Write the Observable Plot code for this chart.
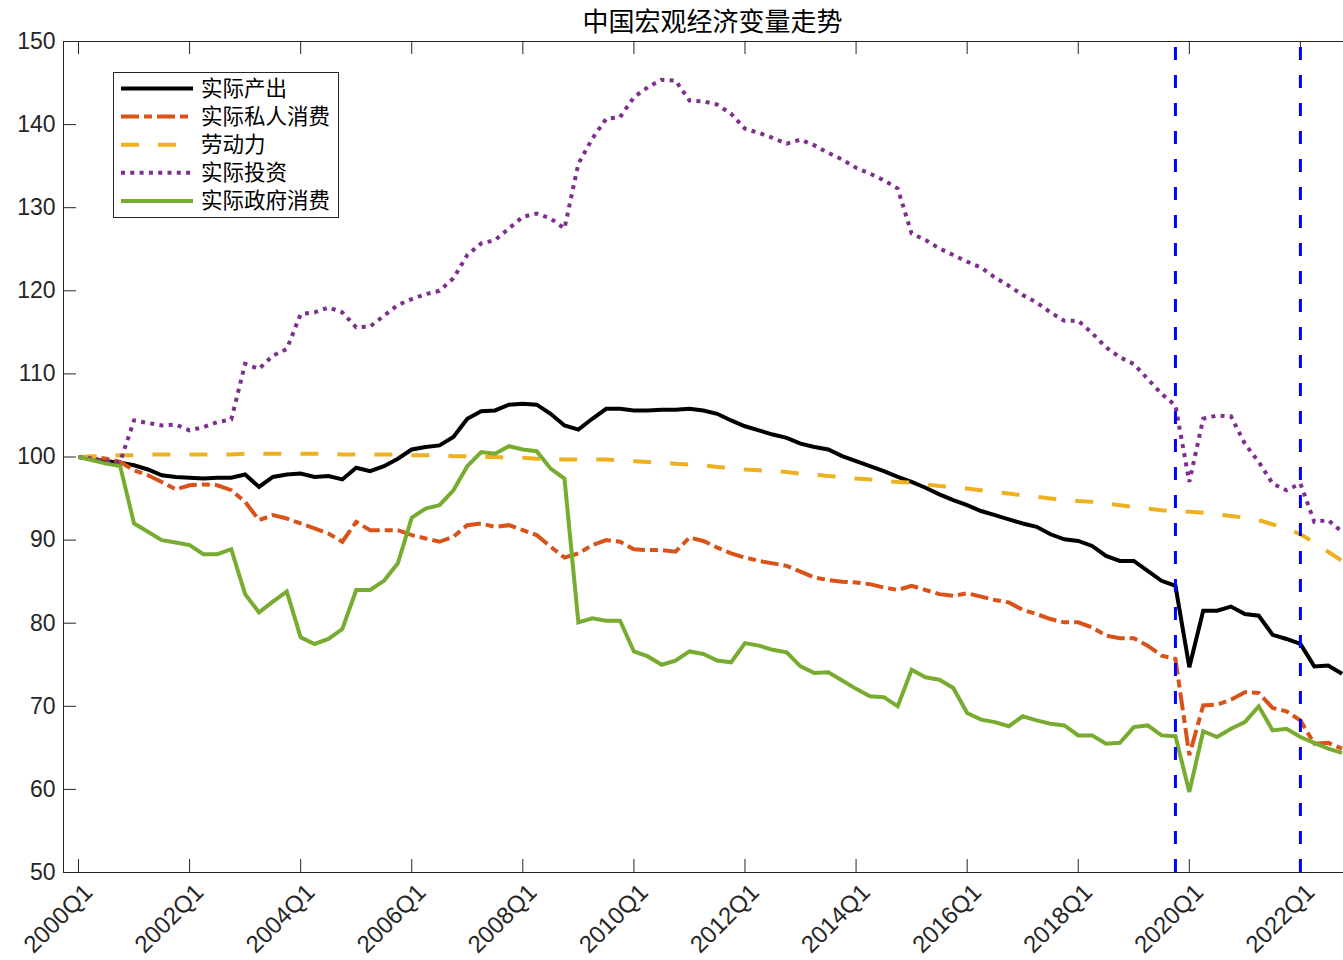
<!DOCTYPE html>
<html><head><meta charset="utf-8">
<script src="https://cdn.jsdelivr.net/npm/d3@7"></script>
<script src="https://cdn.jsdelivr.net/npm/@observablehq/plot@0.6"></script>
<style>
html,body{margin:0;padding:0;background:#fff;overflow:hidden;}
#wrap{position:relative;width:1343px;height:960px;overflow:hidden;}
</style></head><body><div id="wrap"></div>
<script>
const title = "中国宏观经济变量走势";
const seriesNames = ["实际产出", "实际私人消费", "劳动力", "实际投资", "实际政府消费"];
const seriesColors = ["#000000", "#D95319", "#EDB120", "#7E2F8E", "#77AC30"];
const seriesDash = [null, "18,5,8,5", "18,19", "4,5.3", null];

// quarterly index 0 = 2000Q1 ... 91 = 2022Q4
const output = [100.0, 99.8, 99.5, 99.3, 99.0, 98.5, 97.8, 97.6, 97.5, 97.4,
  97.5, 97.5, 97.9, 96.4, 97.6, 97.9, 98.0, 97.6, 97.7, 97.3,
  98.7, 98.3, 98.9, 99.8, 100.9, 101.2, 101.4, 102.4, 104.6, 105.5,
  105.6, 106.3, 106.4, 106.3, 105.2, 103.8, 103.3, 104.6, 105.8, 105.8,
  105.6, 105.6, 105.7, 105.7, 105.8, 105.6, 105.2, 104.4, 103.7, 103.2,
  102.7, 102.3, 101.6, 101.2, 100.9, 100.1, 99.5, 98.9, 98.3, 97.6,
  97.0, 96.3, 95.5, 94.8, 94.2, 93.5, 93.0, 92.5, 92.0, 91.6,
  90.7, 90.1, 89.9, 89.3, 88.1, 87.5, 87.5, 86.3, 85.1, 84.5,
  74.7, 81.5, 81.5, 82.0, 81.1, 80.9, 78.6, 78.1, 77.5, 74.8,
  74.9, 73.9];
const privCons = [100.0, 100.0, 99.8, 99.4, 98.4, 97.8, 97.0, 96.1, 96.6, 96.7,
  96.6, 96.0, 94.6, 92.4, 93.0, 92.6, 92.0, 91.4, 90.8, 89.8,
  92.2, 91.2, 91.2, 91.2, 90.6, 90.2, 89.8, 90.4, 91.8, 92.0,
  91.6, 91.8, 91.2, 90.6, 89.2, 87.9, 88.4, 89.4, 90.0, 89.8,
  88.9, 88.8, 88.8, 88.6, 90.3, 89.9, 89.1, 88.4, 87.9, 87.5,
  87.2, 86.9, 86.2, 85.5, 85.2, 85.0, 84.9, 84.7, 84.3, 84.0,
  84.5, 84.0, 83.5, 83.3, 83.6, 83.2, 82.8, 82.5, 81.6, 81.1,
  80.5, 80.1, 80.1, 79.5, 78.5, 78.2, 78.2, 77.3, 76.1, 75.7,
  64.1, 70.1, 70.2, 70.8, 71.7, 71.6, 69.8, 69.4, 68.3, 65.5,
  65.6, 64.9];
const labor = [100.0, 100.1, 100.1, 100.2, 100.2, 100.3, 100.3, 100.3, 100.3, 100.3,
  100.3, 100.3, 100.4, 100.4, 100.4, 100.4, 100.4, 100.4, 100.4, 100.3,
  100.3, 100.3, 100.3, 100.3, 100.2, 100.2, 100.2, 100.1, 100.1, 100.0,
  100.0, 99.9, 99.9, 99.8, 99.8, 99.7, 99.7, 99.7, 99.7, 99.6,
  99.5, 99.4, 99.3, 99.2, 99.1, 99.0, 98.8, 98.7, 98.5, 98.4,
  98.3, 98.2, 98.0, 97.9, 97.7, 97.6, 97.4, 97.3, 97.1, 97.0,
  96.9, 96.7, 96.5, 96.4, 96.2, 96.0, 95.8, 95.6, 95.4, 95.2,
  95.0, 94.9, 94.7, 94.6, 94.4, 94.2, 94.0, 93.8, 93.6, 93.5,
  93.4, 93.3, 93.1, 92.9, 92.7, 92.4, 91.9, 91.4, 90.7, 89.7,
  88.6, 87.5];
const invest = [100.0, 99.8, 99.5, 99.4, 104.4, 104.1, 103.8, 103.9, 103.2, 103.6,
  104.2, 104.5, 111.2, 110.6, 112.2, 113.0, 117.2, 117.4, 118.0, 117.4,
  115.6, 115.7, 117.0, 118.3, 119.0, 119.6, 120.0, 121.5, 124.3, 125.7,
  126.1, 127.5, 128.9, 129.3, 128.7, 127.5, 135.3, 138.3, 140.7, 140.9,
  143.3, 144.5, 145.4, 145.3, 142.9, 142.8, 142.4, 141.3, 139.5, 139.0,
  138.4, 137.7, 138.2, 137.5, 136.6, 135.8, 134.8, 134.1, 133.3, 132.3,
  126.9, 126.1, 125.1, 124.3, 123.5, 122.8, 121.6, 120.6, 119.5, 118.6,
  117.4, 116.4, 116.4, 114.9, 113.2, 112.0, 111.2, 109.4, 107.6, 106.2,
  97.0, 104.6, 105.0, 104.9, 101.6, 99.4, 96.8, 96.0, 96.8, 92.2,
  92.4, 91.0];
const govCons = [100.0, 99.6, 99.2, 98.9, 92.0, 91.0, 90.0, 89.7, 89.4, 88.3,
  88.3, 88.9, 83.5, 81.3, 82.6, 83.8, 78.3, 77.5, 78.1, 79.3,
  84.0, 84.0, 85.1, 87.2, 92.7, 93.8, 94.2, 96.0, 98.9, 100.6,
  100.4, 101.3, 100.9, 100.7, 98.6, 97.4, 80.1, 80.6, 80.3, 80.3,
  76.6, 76.0, 75.0, 75.5, 76.6, 76.3, 75.5, 75.3, 77.6, 77.3,
  76.8, 76.5, 74.8, 74.0, 74.1, 73.1, 72.1, 71.2, 71.1, 70.0,
  74.4, 73.5, 73.2, 72.2, 69.2, 68.4, 68.1, 67.6, 68.8, 68.3,
  67.9, 67.7, 66.5, 66.5, 65.5, 65.6, 67.5, 67.7, 66.5, 66.4,
  59.7, 67.0, 66.3, 67.3, 68.1, 70.0, 67.1, 67.3, 66.3, 65.6,
  64.9, 64.4];

const xTickIdx = [0, 8, 16, 24, 32, 40, 48, 56, 64, 72, 80, 88];
const xTickLabels = ["2000Q1", "2002Q1", "2004Q1", "2006Q1", "2008Q1", "2010Q1",
  "2012Q1", "2014Q1", "2016Q1", "2018Q1", "2020Q1", "2022Q1"];
const yTicks = [50, 60, 70, 80, 90, 100, 110, 120, 130, 140, 150];
const shockIdx = [79, 88]; // 2019Q4, 2022Q1

const W = 1343, H = 960, mL = 63, mR = -18, mT = 41, mB = 88;
const frameW = W - mL - mR, frameH = H - mT - mB, tickLen = 13;
const labelMap = new Map(xTickIdx.map((d, i) => [d, xTickLabels[i]]));
const seriesData = [output, privCons, labor, invest, govCons];
const axisColor = "#262626";

const lineMarks = seriesData.map((vals, k) => Plot.lineY(vals, {
  x: (d, i) => i, y: d => d,
  stroke: seriesColors[k], strokeWidth: 4,
  strokeDasharray: seriesDash[k] || undefined,
  strokeLinecap: "butt", strokeLinejoin: "miter", strokeMiterlimit: 3
}));

const plot = Plot.plot({
  width: W, height: H,
  marginLeft: mL, marginRight: mR, marginTop: mT, marginBottom: mB,
  style: {fontFamily: "'Liberation Sans', Arial, Helvetica, sans-serif", fontSize: "23px", color: axisColor, background: "#fff"},
  x: {domain: [-1.08, 92.4]},
  y: {domain: [50, 150]},
  marks: [
    ...lineMarks,
    Plot.frame({stroke: axisColor, strokeWidth: 1}),
    Plot.ruleY(yTicks, {y: d => d, stroke: axisColor, insetRight: frameW - tickLen}),
    Plot.ruleX(xTickIdx, {x: d => d, stroke: axisColor, insetBottom: frameH - tickLen}),
    Plot.ruleX(xTickIdx, {x: d => d, stroke: axisColor, insetTop: frameH - tickLen}),
    Plot.ruleX(shockIdx, {x: d => d, stroke: "#0000ff", strokeWidth: 3, strokeDasharray: "13,15", insetTop: 6}),
    Plot.axisY(yTicks, {tickSize: 0, tickPadding: 8, fontSize: 23, fill: axisColor}),
    Plot.axisX(xTickIdx, {tickSize: 0, tickRotate: -45, tickPadding: 16, dx: 10, tickFormat: d => labelMap.get(d), fontSize: 24, fill: axisColor}),
    Plot.text([title], {text: d => d, frameAnchor: "top", lineAnchor: "middle", dy: -19, fontSize: 26, fontFamily: "'Noto Sans CJK SC', sans-serif", fill: "#000"})
  ]
});
document.getElementById("wrap").appendChild(plot);

// legend (inside axes, upper-left)
const legend = d3.create("svg")
  .attr("width", 227).attr("height", 147)
  .style("position", "absolute").style("left", "113px").style("top", "72px");
legend.append("rect").attr("x", 0.5).attr("y", 0.5).attr("width", 225).attr("height", 145)
  .attr("fill", "#fff").attr("stroke", axisColor).attr("stroke-width", 1);
seriesNames.forEach((name, k) => {
  const cy = 16.5 + 28.1 * k;
  legend.append("line").attr("x1", 8).attr("x2", 80).attr("y1", cy).attr("y2", cy)
    .attr("stroke", seriesColors[k]).attr("stroke-width", 4)
    .attr("stroke-dasharray", seriesDash[k] || null);
  legend.append("text").attr("x", 88).attr("y", cy).attr("dy", "0.35em")
    .attr("font-family", "'Noto Sans CJK SC', sans-serif").attr("font-size", 21.5)
    .attr("fill", "#000").text(name);
});
document.getElementById("wrap").appendChild(legend.node());
</script></body></html>
